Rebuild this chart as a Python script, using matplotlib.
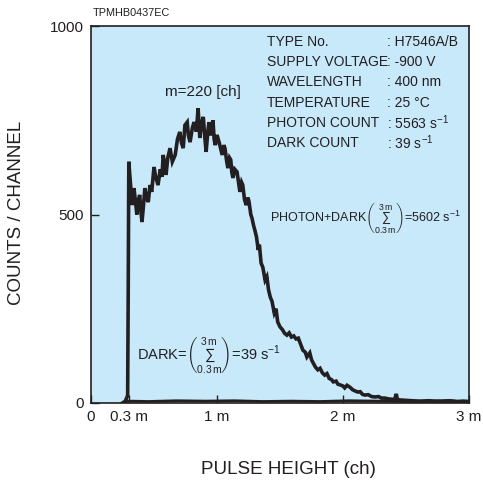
import matplotlib
matplotlib.use("Agg")
import matplotlib.pyplot as plt

plt.rcParams['font.family'] = ['Liberation Sans', 'DejaVu Sans']
plt.rcParams['mathtext.fontset'] = 'custom'
plt.rcParams['mathtext.rm'] = 'Liberation Sans'
plt.rcParams['mathtext.it'] = 'Liberation Sans'
plt.rcParams['text.color'] = '#231f20'
plt.rcParams['xtick.labelcolor'] = '#231f20'
plt.rcParams['ytick.labelcolor'] = '#231f20'

# pulse height spectrum, x in channels (m = 220 ch), y in counts / channel
photon_ch = [55, 60, 64, 65, 66, 68, 70, 72, 75, 78, 80, 83, 85, 87, 89, 92, 94, 97,
             100, 103, 106, 110, 113, 117, 121, 124, 126, 129, 131, 134, 138, 142, 147,
             151, 155, 158, 161, 164, 168, 170, 173, 177, 180, 184, 187, 190, 193, 196,
             199, 201, 204, 206, 209, 211, 213, 215, 217, 220, 224, 229, 232, 234, 237,
             239, 242, 244, 246, 248, 251, 255, 258, 260, 263, 265, 268, 271, 274, 276,
             279, 281, 284, 286, 289, 292, 294, 297, 300, 304, 307, 310, 313, 316, 320,
             323, 326, 330, 334, 338, 342, 346, 350, 354, 358, 362, 365, 370, 374, 377,
             382, 385, 388, 392, 396, 400, 404, 408, 412, 416, 420, 423, 428, 431, 435,
             440, 443, 447, 452, 457, 461, 466, 470, 474, 478, 484, 490, 496, 502, 507,
             513, 519, 525, 530, 533, 535, 540, 550, 560, 574, 590, 600, 610, 627, 640,
             650, 660]
photon_counts = [0, 5, 20, 300, 640, 600, 560, 525, 570, 530, 500, 540, 552, 510, 480, 530, 570, 545,
                 533, 578, 560, 626, 600, 578, 620, 600, 658, 630, 605, 650, 676, 640, 658,
                 700, 719, 690, 676, 737, 745, 710, 692, 730, 745, 720, 782, 703, 740, 759,
                 700, 666, 720, 745, 710, 719, 750, 700, 684, 711, 690, 658, 684, 675, 640,
                 623, 650, 645, 610, 597, 620, 613, 580, 560, 585, 578, 540, 525, 545, 533,
                 500, 491, 470, 459, 440, 406, 420, 371, 360, 326, 335, 300, 281, 270, 239,
                 250, 215, 202, 195, 185, 180, 186, 175, 178, 170, 172, 160, 140, 135, 122,
                 133, 115, 106, 95, 88, 92, 80, 74, 78, 65, 62, 56, 58, 50, 48,
                 45, 40, 47, 42, 35, 32, 29, 30, 23, 21, 22, 17, 16, 17, 13,
                 13, 11, 10, 9, 24, 9, 8, 7, 6, 5, 6, 5, 5, 6, 4,
                 5, 4]

dark_ch = [55, 60, 66, 100, 150, 200, 250, 300, 350, 400, 450, 500, 550, 600, 660]
dark_counts = [0, 3, 5, 4, 6, 5, 6, 4, 5, 4, 6, 5, 4, 5, 4]

xtick_pos = [0, 66, 220, 440, 660]
xtick_labels = ["0", "0.3 m", "1 m", "2 m", "3 m"]
ytick_pos = [0, 500, 1000]

info_keys = ["TYPE No.", "SUPPLY VOLTAGE", "WAVELENGTH", "TEMPERATURE", "PHOTON COUNT", "DARK COUNT"]
info_vals = [": H7546A/B", ": -900 V", ": 400 nm", ": 25 \u00b0C", ": 5563 s$^{-1}$", ": 39 s$^{-1}$"]

W, H = 483, 488
fig = plt.figure(figsize=(W / 100, H / 100), dpi=100)
ax = fig.add_axes([91 / W, 1 - 403 / H, 378 / W, 377 / H])
ax.set_facecolor('#c8e9f9')

ink = '#231f20'
ax.plot(dark_ch, dark_counts, color=ink, lw=2.0, solid_joinstyle='miter')
ax.plot(photon_ch, photon_counts, color=ink, lw=2.6, solid_joinstyle='miter')

ax.set_xlim(0, 660)
ax.set_ylim(0, 1000)
ax.set_xticks(xtick_pos)
ax.set_xticklabels(xtick_labels)
ax.set_yticks(ytick_pos)
ax.tick_params(direction='in', length=6, width=1, labelsize=11, pad=5, color=ink)
for s in ax.spines.values():
    s.set_linewidth(1.2)
    s.set_color(ink)

def ftext(px, py, s, **kw):
    fig.text(px / W, 1 - py / H, s, **kw)

ftext(93, 13, "TPMHB0437EC", fontsize=7.8, va='center', ha='left')
ftext(17, 213, "COUNTS / CHANNEL", fontsize=13.5, rotation=90, va='center', ha='center')
ftext(288, 470, "PULSE HEIGHT (ch)", fontsize=13.5, va='center', ha='center')
ftext(203, 92, "m=220 [ch]", fontsize=11, va='center', ha='center')

for i, (k, v) in enumerate(zip(info_keys, info_vals)):
    y = 42 + i * 20.2
    ftext(267, y, k, fontsize=10, va='center', ha='left')
    ftext(387, y, v, fontsize=10, va='center', ha='left')

ftext(270, 218, r"PHOTON+DARK$\left(\sum_{0.3\,\mathrm{m}}^{3\,\mathrm{m}}\right)$=5602 s$^{-1}$",
      fontsize=9, va='center', ha='left')
ftext(137, 355, r"DARK=$\left(\sum_{0.3\,\mathrm{m}}^{3\,\mathrm{m}}\right)$=39 s$^{-1}$",
      fontsize=10.5, va='center', ha='left')

fig.savefig("out.png", dpi=100)
